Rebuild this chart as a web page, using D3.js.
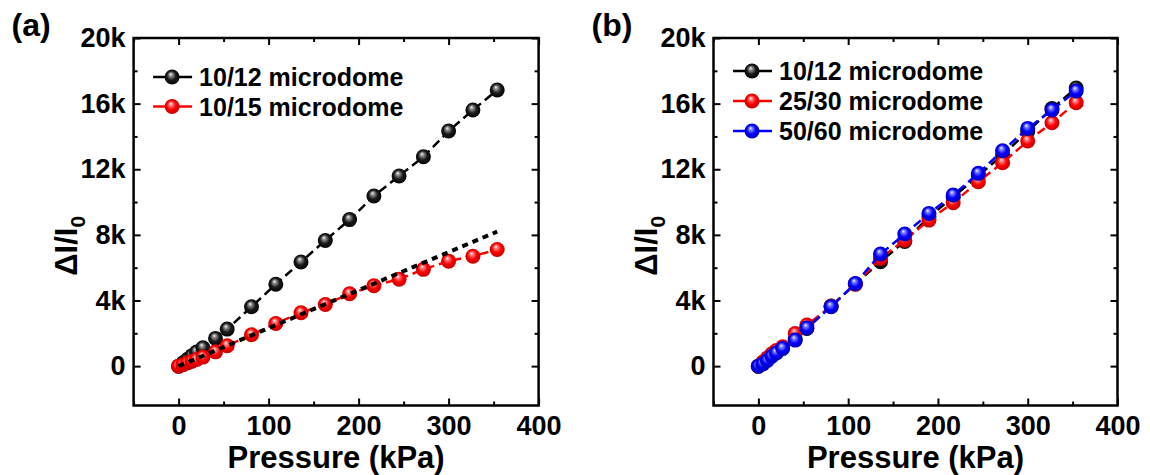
<!DOCTYPE html>
<html lang="en">
<head>
<meta charset="UTF-8" />
<title>Microdome pressure response</title>
<script src="https://d3js.org/d3.v7.min.js"></script>
<style>
  body { margin: 0; background: #fff; }
  svg text { font-family: Arial, "Liberation Sans", sans-serif; font-weight: bold; fill: #000; }
  .tick line { stroke: #000; stroke-width: 2px; }
  .tick text { font-size: 27px; }
</style>
</head>
<body>
<svg id="chart" width="1150" height="475"></svg>
<script>
  // pressure steps (kPa) shared by every series
  const pressure = [0, 5, 10, 15, 20, 27, 41, 54, 81, 108, 136, 163, 190, 217, 245, 272, 300, 327, 354];

  // panel (a)
  const a1012 = [0, 200, 420, 640, 860, 1116, 1690, 2256, 3620, 4990, 6350, 7660, 8930, 10370, 11590, 12760, 14330, 15610, 16830];
  const a1015 = [0, 90, 200, 300, 400, 550, 870, 1240, 1910, 2600, 3250, 3760, 4410, 4900, 5300, 5900, 6400, 6700, 7110];
  const fitX = [0, 354];
  const fitY = [0, 8200];

  // panel (b)
  const b1012 = [0, 200, 420, 640, 860, 1100, 1650, 2300, 3660, 5000, 6360, 7600, 9100, 10300, 11600, 12870, 14300, 15700, 16950];
  const b2530 = [0, 250, 500, 750, 950, 1180, 1990, 2500, 3650, 5000, 6570, 7680, 8900, 9960, 11240, 12400, 13720, 14830, 16060];
  const b5060 = [0, 130, 350, 600, 800, 1080, 1585, 2330, 3620, 5040, 6830, 8050, 9310, 10430, 11750, 13130, 14490, 15610, 16770];

  const xTicks = [0, 100, 200, 300, 400];
  const xMinor = [-50, 50, 150, 250, 350];
  const yTicks = [0, 4000, 8000, 12000, 16000, 20000];
  const yMinor = [2000, 6000, 10000, 14000, 18000];

  const svg = d3.select("#chart");
  const defs = svg.append("defs");

  // shiny sphere markers
  const balls = {
    black: ["#ffffff", "#9a9a9a", "#1a1a1a", "#000000"],
    red: ["#ffffff", "#ff8a8a", "#ff0000", "#b80000"],
    blue: ["#ffffff", "#8a8aff", "#0000ff", "#0000b0"]
  };
  Object.entries(balls).forEach(([name, c]) => {
    const grad = defs.append("radialGradient")
      .attr("id", "ball-" + name)
      .attr("cx", 0.5).attr("cy", 0.5).attr("r", 0.55)
      .attr("fx", 0.4).attr("fy", 0.3);
    [[0, c[0]], [0.18, c[1]], [0.55, c[2]], [1, c[3]]].forEach(([o, col]) => {
      grad.append("stop").attr("offset", o).attr("stop-color", col);
    });
  });

  const fmt = d => d === 0 ? "0" : (d / 1000) + "k";

  function drawPanel(cfg) {
    const x = d3.scaleLinear().domain([-50, 400]).range([cfg.left, cfg.right]);
    const y = d3.scaleLinear().domain([-2400, 20000]).range([cfg.bottom, cfg.top]);
    const g = svg.append("g");

    const clean = sel => sel.attr("font-size", null).attr("font-family", null)
      .call(s => s.select(".domain").remove());

    // axes, ticks pointing inward on all four sides
    g.append("g").attr("transform", `translate(0,${cfg.bottom})`)
      .call(d3.axisBottom(x).tickValues(xTicks).tickSize(-7).tickPadding(10)).call(clean);
    g.append("g").attr("transform", `translate(0,${cfg.bottom})`)
      .call(d3.axisBottom(x).tickValues(xMinor).tickSize(-4).tickFormat("")).call(clean);
    g.append("g").attr("transform", `translate(0,${cfg.top})`)
      .call(d3.axisTop(x).tickValues(xTicks).tickSize(-7).tickFormat("")).call(clean);
    g.append("g").attr("transform", `translate(0,${cfg.top})`)
      .call(d3.axisTop(x).tickValues(xMinor).tickSize(-4).tickFormat("")).call(clean);
    g.append("g").attr("transform", `translate(${cfg.left},0)`)
      .call(d3.axisLeft(y).tickValues(yTicks).tickSize(-7).tickPadding(8).tickFormat(fmt)).call(clean);
    g.append("g").attr("transform", `translate(${cfg.left},0)`)
      .call(d3.axisLeft(y).tickValues(yMinor).tickSize(-4).tickFormat("")).call(clean);
    g.append("g").attr("transform", `translate(${cfg.right},0)`)
      .call(d3.axisRight(y).tickValues(yTicks).tickSize(-7).tickFormat("")).call(clean);
    g.append("g").attr("transform", `translate(${cfg.right},0)`)
      .call(d3.axisRight(y).tickValues(yMinor).tickSize(-4).tickFormat("")).call(clean);

    g.append("rect")
      .attr("x", cfg.left).attr("y", cfg.top)
      .attr("width", cfg.right - cfg.left).attr("height", cfg.bottom - cfg.top)
      .attr("fill", "none").attr("stroke", "#000").attr("stroke-width", 2.5);

    const line = d3.line().x(d => x(d[0])).y(d => y(d[1]));

    // series: dashed line then sphere markers
    cfg.series.forEach(s => {
      const pts = pressure.map((p, i) => [p, s.values[i]]);
      g.append("path").datum(pts)
        .attr("d", line)
        .attr("fill", "none")
        .attr("stroke", s.color)
        .attr("stroke-width", 2.5)
        .attr("stroke-dasharray", "9,5");
      g.selectAll(null).data(pts).enter().append("circle")
        .attr("cx", d => x(d[0]))
        .attr("cy", d => y(d[1]))
        .attr("r", 7.5)
        .attr("fill", `url(#ball-${s.ball})`);
    });

    if (cfg.fit) {
      g.append("path").datum(cfg.fit.x.map((v, i) => [v, cfg.fit.y[i]]))
        .attr("d", line)
        .attr("fill", "none")
        .attr("stroke", "#000")
        .attr("stroke-width", 4)
        .attr("stroke-dasharray", "6,5");
    }

    // legend
    cfg.series.forEach((s, i) => {
      const ly = cfg.legendTop + i * cfg.legendStep;
      const lx = cfg.left + 38.5;
      g.append("line")
        .attr("x1", lx - 19).attr("x2", lx + 20)
        .attr("y1", ly).attr("y2", ly)
        .attr("stroke", s.color).attr("stroke-width", 2.5);
      g.append("circle").attr("cx", lx).attr("cy", ly).attr("r", 7.5)
        .attr("fill", `url(#ball-${s.ball})`);
      g.append("text")
        .attr("x", cfg.left + 65.5).attr("y", ly)
        .attr("dy", "0.36em")
        .style("font-size", "25px")
        .text(s.label);
    });

    // titles
    g.append("text")
      .attr("x", (cfg.left + cfg.right) / 2).attr("y", 468)
      .attr("text-anchor", "middle")
      .style("font-size", "31px")
      .text("Pressure (kPa)");

    const yt = g.append("text")
      .attr("transform", `translate(${cfg.left - 57},${(cfg.top + cfg.bottom) / 2 + 24}) rotate(-90)`)
      .attr("text-anchor", "middle")
      .style("font-size", "31px");
    yt.append("tspan").text("\u0394I/I");
    yt.append("tspan").attr("dy", 8).style("font-size", "21px").text("0");

    g.append("text")
      .attr("x", cfg.left - 122).attr("y", 36)
      .style("font-size", "32px")
      .text(cfg.tag);
  }

  drawPanel({
    tag: "(a)", left: 133.6, right: 538.6, top: 38, bottom: 405.5,
    legendTop: 77, legendStep: 29.5,
    series: [
      { label: "10/12 microdome", values: a1012, color: "#000", ball: "black" },
      { label: "10/15 microdome", values: a1015, color: "#ff0000", ball: "red" }
    ],
    fit: { x: fitX, y: fitY }
  });

  drawPanel({
    tag: "(b)", left: 713.5, right: 1117.5, top: 38, bottom: 405.5,
    legendTop: 71, legendStep: 30,
    series: [
      { label: "10/12 microdome", values: b1012, color: "#000", ball: "black" },
      { label: "25/30 microdome", values: b2530, color: "#ff0000", ball: "red" },
      { label: "50/60 microdome", values: b5060, color: "#0000ff", ball: "blue" }
    ]
  });
</script>
</body>
</html>
